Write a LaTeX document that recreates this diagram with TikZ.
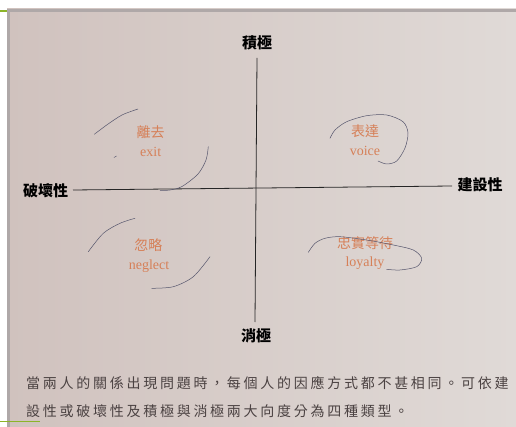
\documentclass[tikz,border=0pt]{standalone}
\usepackage{fontspec}
\setmainfont{Liberation Serif}
\newfontfamily\cjk{Noto Sans CJK TC}
\newfontfamily\cjkcap[LetterSpace=19.5]{Noto Sans CJK TC}
\definecolor{paperA}{RGB}{208,194,190}
\definecolor{paperB}{RGB}{224,218,215}
\definecolor{labelorange}{RGB}{214,128,88}
\definecolor{pencil}{RGB}{85,85,108}
\definecolor{captiongray}{RGB}{75,66,66}
\definecolor{slidegreen}{RGB}{140,180,40}
\definecolor{pageedge}{RGB}{175,168,168}
\tikzset{
  axislabel/.style={font=\cjk\bfseries\fontsize{15}{18}\selectfont, text=black, inner sep=0pt},
  quadzh/.style={font=\cjk\fontsize{14}{16}\selectfont, text=labelorange, inner sep=0pt},
  quaden/.style={font=\fontsize{14}{16}\selectfont, text=labelorange, inner sep=0pt},
  axisline/.style={draw=black!85, line width=0.8pt},
  pencilline/.style={draw=pencil, line width=0.5pt, line cap=round},
  captiontext/.style={font=\cjkcap\fontsize{14}{16}\selectfont, text=captiongray, inner sep=0pt, anchor=west}
}
\begin{document}
\begin{tikzpicture}[x=1pt,y=-1pt]
\useasboundingbox (0,0) rectangle (516,427);
\fill[white] (0,0) rectangle (516,427);
\shade[left color=paperA, right color=paperB] (7,9) rectangle (516,427);
\draw[pageedge, line width=2.5pt] (8.5,427) -- (8.5,10.5) -- (516,10.5);
\draw[slidegreen, line width=1.6pt] (0,11) -- (7,11);
\draw[slidegreen, line width=1.2pt] (0,421.5) -- (40,421.5);

% axes
\coordinate (ytop) at (257,58);
\coordinate (ybot) at (255,322);
\coordinate (xleft) at (73,190);
\coordinate (xright) at (452,186);
\draw[axisline] (ytop) -- (ybot);
\draw[axisline] (xleft) -- (xright);

\node[axislabel] (pos) at (257,43) {積極};
\node[axislabel] (neg) at (256,336) {消極};
\node[axislabel] (des) at (45.5,191) {破壞性};
\node[axislabel] (con) at (480,185) {建設性};

% quadrant labels
\node[quadzh] (exitzh) at (150.7,131.7) {離去};
\node[quaden] (exiten) at (150.7,152.3) {exit};
\node[quadzh] (voicezh) at (365,130.7) {表達};
\node[quaden] (voiceen) at (365,150.7) {voice};
\node[quadzh] (neglzh) at (148.3,245) {忽略};
\node[quaden] (neglen) at (149,265.7) {neglect};
\node[quadzh] (loyzh) at (365,242.7) {忠實等待};
\node[quaden] (loyen) at (365,263.3) {loyalty};

% pencil marks
\draw[pencilline] plot[smooth] coordinates {(94.3,134.3) (106.7,125) (122,115) (138,109)};
\draw[pencilline] (114,157.5) -- (116.5,156);
\draw[pencilline] plot[smooth] coordinates {(208.3,146.7) (206,160) (198,174) (182,186.5) (170,190) (160,190.5)};
\draw[pencilline] plot[smooth] coordinates {(330,138.3) (335,130) (346.7,121.7) (366.7,115.7) (386.7,115) (403,121.7) (408,133) (405,148) (396.7,161) (386.7,164) (378,161)};
\draw[pencilline] plot[smooth] coordinates {(88.3,251.7) (103.3,233.3) (120,223.3) (135,218.3)};
\draw[pencilline] plot[smooth] coordinates {(151.7,288.3) (173.3,286.7) (193.3,276.7) (210,256.7)};
\draw[pencilline] plot[smooth] coordinates {(308.3,252.3) (315,243.3) (325,238.3) (340,236.7) (366.7,240) (393.3,245) (413.3,250) (421.7,258.3) (416.7,266.7) (400,270) (386.7,269.3)};

% caption
\node[captiontext] (cap1) at (26,383) {當兩人的關係出現問題時，每個人的因應方式都不甚相同。可依建};
\node[captiontext] (cap2) at (26,411) {設性或破壞性及積極與消極兩大向度分為四種類型。};
\end{tikzpicture}
\end{document}
